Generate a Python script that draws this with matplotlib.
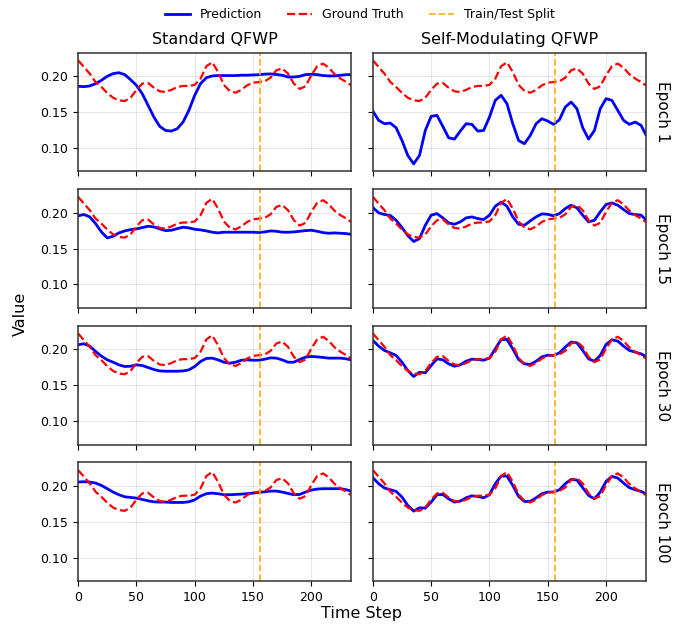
import numpy as np
import matplotlib
matplotlib.use("Agg")
import matplotlib.pyplot as plt

steps = [0, 5, 10, 15, 20, 25, 30, 35, 40, 45, 50, 55, 60, 65, 70, 75, 80, 85, 90, 95,
         100, 105, 110, 115, 120, 125, 130, 135, 140, 145, 150, 155, 160, 165, 170, 175,
         180, 185, 190, 195, 200, 205, 210, 215, 220, 225, 230, 234]

ground_truth = [0.2224, 0.213, 0.2037, 0.192, 0.185, 0.1767, 0.170, 0.1664, 0.1654, 0.170,
                0.181, 0.1897, 0.1907, 0.184, 0.179, 0.178, 0.181, 0.185, 0.1865, 0.1865,
                0.188, 0.1967, 0.214, 0.2196, 0.206, 0.188, 0.1795, 0.177, 0.181, 0.1874,
                0.191, 0.192, 0.193, 0.198, 0.2084, 0.211, 0.2037, 0.1897, 0.1823, 0.186,
                0.2014, 0.214, 0.2177, 0.212, 0.2028, 0.1967, 0.192, 0.1874]

std_e1 = [0.186, 0.1855, 0.1865, 0.1897, 0.1944, 0.200, 0.2037, 0.205, 0.2023, 0.1953,
          0.1874, 0.1757, 0.1594, 0.143, 0.130, 0.1243, 0.1234, 0.1267, 0.136, 0.1524,
          0.1734, 0.1897, 0.198, 0.2005, 0.201, 0.201, 0.201, 0.201, 0.2015, 0.2015,
          0.2019, 0.2022, 0.203, 0.2033, 0.2025, 0.2014, 0.199, 0.199, 0.200, 0.2023,
          0.2028, 0.2023, 0.201, 0.2005, 0.2005, 0.2014, 0.2023, 0.2023]
selfmod_e1 = [0.1514, 0.1384, 0.1337, 0.1346, 0.128, 0.1103, 0.0893, 0.0776, 0.0893, 0.1243,
              0.144, 0.1454, 0.130, 0.114, 0.1122, 0.1234, 0.1337, 0.1328, 0.1234, 0.1243,
              0.143, 0.1664, 0.1734, 0.1617, 0.1337, 0.1103, 0.1057, 0.1173, 0.1337, 0.1407,
              0.1374, 0.1328, 0.1393, 0.157, 0.164, 0.1547, 0.128, 0.1122, 0.1243, 0.1547,
              0.1687, 0.1664, 0.1524, 0.1384, 0.1328, 0.136, 0.1314, 0.1187]

std_e15 = [0.1958, 0.1977, 0.1944, 0.185, 0.1734, 0.165, 0.1673, 0.172, 0.1748, 0.1766,
           0.1776, 0.1794, 0.1813, 0.1804, 0.1776, 0.1752, 0.1757, 0.178, 0.180, 0.179,
           0.1771, 0.1762, 0.1748, 0.173, 0.172, 0.173, 0.173, 0.173, 0.173, 0.173,
           0.173, 0.1725, 0.1734, 0.1748, 0.1743, 0.173, 0.173, 0.1734, 0.1743, 0.1752,
           0.1757, 0.1743, 0.1724, 0.1715, 0.172, 0.1715, 0.171, 0.170]
selfmod_e15 = [0.2075, 0.200, 0.1977, 0.1963, 0.1897, 0.1794, 0.1682, 0.160, 0.164, 0.1827,
               0.1967, 0.199, 0.193, 0.186, 0.1841, 0.1874, 0.193, 0.1944, 0.192, 0.1907,
               0.1967, 0.2093, 0.215, 0.2093, 0.1944, 0.1841, 0.1827, 0.1888, 0.1944, 0.1986,
               0.198, 0.1958, 0.199, 0.206, 0.2107, 0.207, 0.1967, 0.1874, 0.1897, 0.2014,
               0.2117, 0.214, 0.2107, 0.2047, 0.199, 0.1977, 0.1967, 0.1907]

std_e30 = [0.2065, 0.208, 0.2047, 0.1972, 0.1907, 0.1855, 0.1822, 0.1785, 0.1762, 0.1766,
           0.1785, 0.1776, 0.1748, 0.172, 0.170, 0.1696, 0.1696, 0.1696, 0.170, 0.1715,
           0.1762, 0.1832, 0.1874, 0.1879, 0.1855, 0.1822, 0.1808, 0.1822, 0.185, 0.1855,
           0.185, 0.185, 0.1864, 0.1883, 0.1879, 0.1855, 0.1822, 0.1822, 0.186, 0.1893,
           0.1902, 0.1897, 0.1888, 0.1879, 0.1879, 0.1879, 0.1869, 0.1855]
selfmod_e30 = [0.2126, 0.2047, 0.1986, 0.1953, 0.1916, 0.1822, 0.1706, 0.1622, 0.1682, 0.1673,
               0.1776, 0.1869, 0.1855, 0.1799, 0.1766, 0.1785, 0.1836, 0.1864, 0.186, 0.185,
               0.1879, 0.2009, 0.214, 0.214, 0.2009, 0.186, 0.1799, 0.179, 0.1836, 0.1897,
               0.192, 0.1916, 0.1953, 0.2033, 0.2103, 0.2093, 0.1986, 0.1869, 0.1836, 0.1916,
               0.207, 0.2135, 0.2117, 0.2047, 0.1986, 0.1963, 0.1939, 0.1902]

std_e100 = [0.2056, 0.2061, 0.2056, 0.2042, 0.2009, 0.1963, 0.1916, 0.1879, 0.185, 0.1841,
            0.1832, 0.1813, 0.1794, 0.178, 0.1776, 0.1776, 0.1771, 0.1771, 0.1771, 0.178,
            0.1808, 0.186, 0.1893, 0.1902, 0.1893, 0.1879, 0.1879, 0.1883, 0.1888, 0.1893,
            0.1902, 0.1911, 0.192, 0.193, 0.193, 0.1916, 0.1897, 0.1879, 0.1883, 0.1916,
            0.1944, 0.1958, 0.1963, 0.1963, 0.1963, 0.1963, 0.1949, 0.193]
selfmod_e100 = [0.2117, 0.2033, 0.1972, 0.1949, 0.1925, 0.1846, 0.1729, 0.165, 0.1696, 0.1692,
                0.1776, 0.1879, 0.1883, 0.1822, 0.1776, 0.179, 0.1836, 0.1864, 0.1855, 0.1836,
                0.1879, 0.2033, 0.214, 0.214, 0.2009, 0.1855, 0.1785, 0.1785, 0.1836, 0.1893,
                0.1916, 0.1916, 0.1949, 0.2033, 0.2093, 0.2084, 0.1977, 0.1869, 0.1822, 0.1916,
                0.2065, 0.2135, 0.2112, 0.2042, 0.1977, 0.1949, 0.1925, 0.1893]

epochs = ["Epoch 1", "Epoch 15", "Epoch 30", "Epoch 100"]
col_titles = ["Standard QFWP", "Self-Modulating QFWP"]
preds = [[std_e1, selfmod_e1], [std_e15, selfmod_e15],
         [std_e30, selfmod_e30], [std_e100, selfmod_e100]]
split_step = 156

fig, axes = plt.subplots(4, 2, figsize=(6.79, 6.27), dpi=100, sharex=True, sharey=True)
fig.subplots_adjust(left=0.115, right=0.951, top=0.916, bottom=0.073,
                    wspace=0.08, hspace=0.15)

for r in range(4):
    for c in range(2):
        ax = axes[r][c]
        ax.plot(steps, preds[r][c], color='blue', lw=2, label='Prediction')
        ax.plot(steps, ground_truth, color='red', ls='--', lw=1.6, label='Ground Truth')
        ax.axvline(split_step, color='orange', ls='--', lw=1.3, alpha=0.85,
                   label='Train/Test Split')
        ax.grid(True, alpha=0.3)
        ax.set_xlim(0, 234)
        ax.set_ylim(0.067, 0.233)
        ax.set_yticks([0.10, 0.15, 0.20])
        ax.set_xticks([0, 50, 100, 150, 200])
        ax.tick_params(labelsize=9)
        for s in ax.spines.values():
            s.set_color('#333333')
            s.set_linewidth(1.1)
        if r == 0:
            ax.set_title(col_titles[c], fontsize=11.5, pad=6)
        if c == 1:
            ax.text(1.035, 0.5, epochs[r], transform=ax.transAxes, rotation=270,
                    ha='left', va='center', fontsize=11)

fig.text(0.03, 0.5, 'Value', rotation=90, ha='center', va='center', fontsize=11.5)
fig.text(0.533, 0.022, 'Time Step', ha='center', va='center', fontsize=11.5)

handles, labels = axes[0][0].get_legend_handles_labels()
fig.legend(handles, labels, loc='upper center', ncol=3, frameon=False,
           fontsize=9, bbox_to_anchor=(0.53, 1.005), columnspacing=2.0)

fig.savefig('out.png', dpi=100)
